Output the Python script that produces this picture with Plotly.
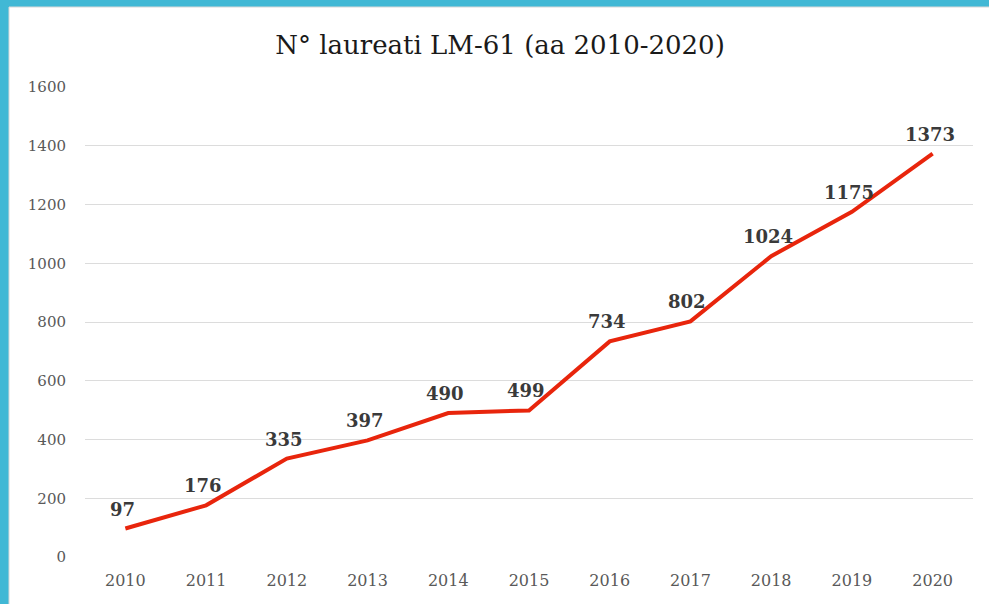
import plotly.graph_objects as go

years = ["2010", "2011", "2012", "2013", "2014", "2015", "2016", "2017", "2018", "2019", "2020"]
laureati = [97, 176, 335, 397, 490, 499, 734, 802, 1024, 1175, 1373]
y_ticks = [0, 200, 400, 600, 800, 1000, 1200, 1400, 1600]

W, H = 989, 604
ML, MR, MT, MB = 85, 16, 87, 47
pw, ph = W - ML - MR, H - MT - MB

fig = go.Figure()
fig.add_trace(go.Scatter(
    x=years, y=laureati, mode="lines",
    line=dict(color="#e8250c", width=4),
    hoverinfo="skip",
))
for i, v in enumerate(laureati):
    fig.add_annotation(x=i, y=v, xref="x", yref="y", text=str(v), showarrow=False,
                       yanchor="bottom", yshift=7, xshift=-3,
                       font=dict(family="DejaVu Serif", size=18, color="#3a3a3a", weight="bold"))

fig.add_shape(type="rect", xref="paper", yref="paper", layer="below",
              x0=(9 - ML) / pw, x1=(W + 5 - ML) / pw,
              y0=-(MB + 5) / ph, y1=(ph + MT - 7) / ph,
              fillcolor="white", line=dict(color="#d8d8d8", width=1))

fig.update_layout(
    width=W, height=H,
    margin=dict(l=ML, r=MR, t=MT, b=MB),
    paper_bgcolor="#41b8d5",
    plot_bgcolor="white",
    showlegend=False,
    title=dict(text="N° laureati LM-61 (aa 2010-2020)", x=(500 - ML) / pw, xref="paper", xanchor="center",
               y=1 - 45 / H, yanchor="middle",
               font=dict(family="DejaVu Serif", size=26, color="#1a1a1a")),
    xaxis=dict(type="category", categoryarray=years, range=[-0.5, len(years) - 0.5],
               showgrid=False, showline=False, ticks="", ticklabelstandoff=12,
               tickfont=dict(family="DejaVu Serif", size=16, color="#595959")),
    yaxis=dict(range=[0, 1600], tickvals=y_ticks, showgrid=True, gridcolor="#dcdcdc", gridwidth=1,
               zeroline=False, showline=False, ticks="", ticklabelstandoff=18,
               tickfont=dict(family="DejaVu Serif", size=15, color="#595959")),
)

fig.write_html("out.html", config={"displayModeBar": False},
               post_script="document.body.style.margin='0';document.body.style.overflow='hidden';")
